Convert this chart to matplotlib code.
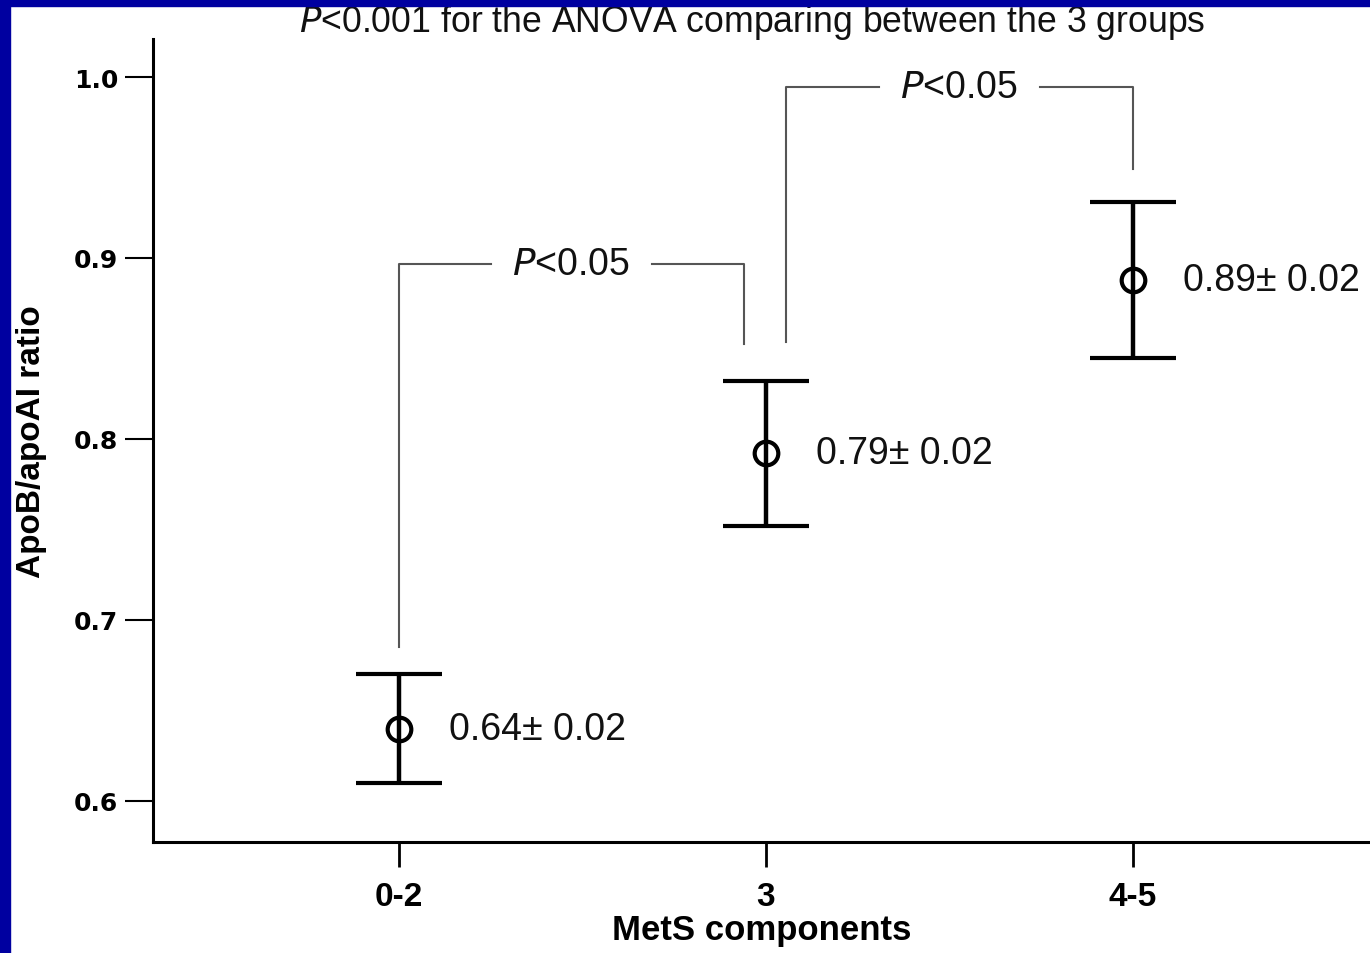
import numpy as np
import matplotlib
matplotlib.use("Agg")
import matplotlib.pyplot as plt
from matplotlib.patches import Rectangle

# Data
groups = ['0-2', '3', '4-5']
means = [0.640, 0.792, 0.888]
errs = [0.030, 0.040, 0.043]
labels = ['0.64\u00b1 0.02', '0.79\u00b1 0.02', '0.89\u00b1 0.02']

# significance brackets: (x left, x right, y left end, y right end, y top, label)
brackets = [
    (0.0, 0.94, 0.685, 0.8525, 0.8967, 'P<0.05'),
    (1.054, 2.0, 0.8536, 0.9492, 0.9945, 'P<0.05'),
]

plt.rcParams['font.family'] = ['Liberation Sans', 'DejaVu Sans']

fig = plt.figure(figsize=(13.7, 9.54), dpi=100)
ax = fig.add_axes([153 / 1370, 111 / 954, 1217 / 1370, 803 / 954])

x = np.arange(len(groups))
ax.errorbar(x, means, yerr=errs, fmt='o', color='black', mfc='none',
            mec='black', ms=17, mew=3, elinewidth=3.2, capsize=31,
            capthick=3.2, zorder=3)

for xi, m, lab in zip(x, means, labels):
    ax.text(xi + 0.136, m, lab, fontsize=27, va='center', ha='left',
            color='#111111')

gap = 0.22
for xl, xr, yl, yr, yt, lab in brackets:
    xc = (xl + xr) / 2
    ax.plot([xl, xl, xc - gap], [yl, yt, yt], color='#555555', lw=1.5)
    ax.plot([xc + gap, xr, xr], [yt, yt, yr], color='#555555', lw=1.5)
    ax.text(xc, yt, r'$\it{P}$' + lab[1:], fontsize=27, ha='center',
            va='center', color='#111111')

ax.set_xlim(-0.670, 2.646)
ax.set_ylim(0.5773, 1.021)
ax.set_yticks([0.6, 0.7, 0.8, 0.9, 1.0])
ax.set_yticklabels(['0.6', '0.7', '0.8', '0.9', '1.0'],
                   fontfamily='DejaVu Sans', fontweight='bold', fontsize=18)
ax.set_xticks(x)
ax.set_xticklabels(groups, fontweight='bold', fontsize=24)
ax.tick_params(axis='y', length=20, width=1.5, pad=5)
ax.tick_params(axis='x', length=18, width=2, pad=10)

for s in ['top', 'right']:
    ax.spines[s].set_visible(False)
for s in ['left', 'bottom']:
    ax.spines[s].set_linewidth(2.2)

ax.set_xlabel('MetS components', fontsize=25, fontweight='bold')
ax.xaxis.set_label_coords(0.5004, -0.089)
ax.set_ylabel('ApoB/apoAI ratio', fontsize=24, fontweight='bold')
ax.yaxis.label.set_va('center')
ax.yaxis.set_label_coords(-0.100, 0.50)

fig.text(752 / 1370, 1 - 22 / 954,
         r'$\it{P}$<0.001 for the ANOVA comparing between the 3 groups',
         fontsize=25.7, ha='center', va='center', color='#111111')

# blue frame on left and top
fig.patches.append(Rectangle((0, 0), 10 / 1370, 1, transform=fig.transFigure,
                             color='#0000a0', zorder=10))
fig.patches.append(Rectangle((0, 1 - 7 / 954), 1, 7 / 954,
                             transform=fig.transFigure, color='#0000a0',
                             zorder=10))

fig.savefig('out.png', dpi=100)
